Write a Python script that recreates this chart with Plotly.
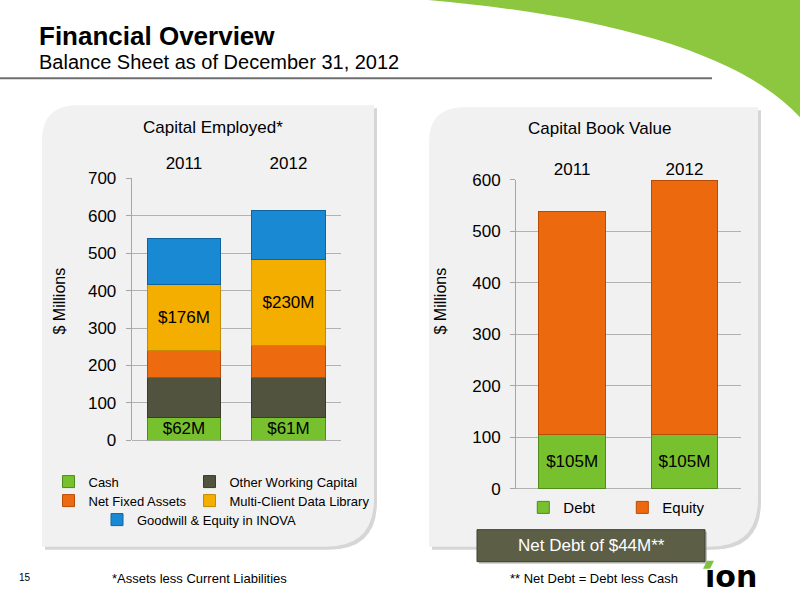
import plotly.graph_objects as go

# ==========================================
# DATOS ($ millones)
# ==========================================
years = ["2011", "2012"]

# Capital Employed (apilado de abajo hacia arriba)
cash = [62, 61]
other_wc = [107, 108]
net_fixed = [70, 85]
mc_library = [176, 230]
goodwill = [125, 130]

# Capital Book Value
debt = [105, 105]
equity = [433, 494]

W, H = 800, 600
# zona vertical que ocupa el "paper" en la captura
TOP, PH = 9.7, 580.6


def X(px):
    return px / W


def Y(py):
    return 1 - (py - TOP) / PH


def pt(x, y):
    return f"{X(x):.5f},{Y(y):.5f}"


def panel_path(x0, y0, x1, y1, r1, r2):
    # rectangulo con esquinas redondeadas en diagonal
    return (f"M {pt(x0, y0 + r1)} Q {pt(x0, y0)} {pt(x0 + r1, y0)} "
            f"L {pt(x1, y0)} L {pt(x1, y1 - r2)} Q {pt(x1, y1)} {pt(x1 - r2, y1)} "
            f"L {pt(x0, y1)} Z")


def money(vals):
    return [f"${v:.0f}M" for v in vals]


FONT = "Liberation Sans, Arial, sans-serif"
lbl_font = dict(size=17, color="black", family=FONT)

fig = go.Figure()

# ==========================================
# CAPITAL EMPLOYED
# ==========================================
fig.add_trace(go.Bar(x=years, y=cash, name="Cash", marker=dict(color="#78c12e", line=dict(color="#4f8a1a", width=1)),
                     text=money(cash), textposition="inside", insidetextanchor="middle", constraintext="none",
                     textfont=lbl_font, width=0.7, legend="legend", xaxis="x", yaxis="y"))
fig.add_trace(go.Bar(x=years, y=other_wc, name="Other Working Capital",
                     marker=dict(color="#52533f", line=dict(color="#3a3b2c", width=1)),
                     width=0.7, legend="legend2", xaxis="x", yaxis="y"))
fig.add_trace(go.Bar(x=years, y=net_fixed, name="Net Fixed Assets",
                     marker=dict(color="#ee6a0e", line=dict(color="#b84c06", width=1)),
                     width=0.7, legend="legend3", xaxis="x", yaxis="y"))
fig.add_trace(go.Bar(x=years, y=mc_library, name="Multi-Client Data Library",
                     marker=dict(color="#f4ae00", line=dict(color="#c48a00", width=1)),
                     text=money(mc_library), textposition="inside", insidetextanchor="middle", constraintext="none",
                     textfont=lbl_font, width=0.7, legend="legend4", xaxis="x", yaxis="y"))
fig.add_trace(go.Bar(x=years, y=goodwill, name="Goodwill & Equity in INOVA",
                     marker=dict(color="#1a89d4", line=dict(color="#0f64a0", width=1)),
                     width=0.7, legend="legend5", xaxis="x", yaxis="y"))

# ==========================================
# CAPITAL BOOK VALUE
# ==========================================
fig.add_trace(go.Bar(x=years, y=debt, name="Debt", marker=dict(color="#78c12e", line=dict(color="#4f8a1a", width=1)),
                     text=money(debt), textposition="inside", insidetextanchor="middle", constraintext="none",
                     textfont=lbl_font, width=0.594, legend="legend6", xaxis="x2", yaxis="y2"))
fig.add_trace(go.Bar(x=years, y=equity, name="Equity", marker=dict(color="#ec6a0d", line=dict(color="#b84c06", width=1)),
                     width=0.594, legend="legend7", xaxis="x2", yaxis="y2"))

# ==========================================
# EJES
# ==========================================
grid = "#b2b2b2"
eje_y = dict(
    showgrid=True, gridcolor=grid, gridwidth=1,
    zeroline=True, zerolinecolor=grid, zerolinewidth=1,
    showline=True, linecolor="#a6a6a6", linewidth=1,
    ticks="outside", ticklen=5, tickcolor="#a6a6a6",
    tickfont=dict(size=17, color="black"), dtick=100, ticklabelstandoff=6,
)
eje_x = dict(type="category", side="top", showline=False, showgrid=False, ticks="",
             tickfont=dict(size=17, color="black"))

fig.update_layout(
    xaxis=dict(domain=[X(131.7), X(340.7)], anchor="y", ticklabelstandoff=5, **eje_x),
    yaxis=dict(domain=[Y(440.7), Y(178.9)], anchor="x", range=[0, 700], **eje_y),
    xaxis2=dict(domain=[X(516), X(740.6)], anchor="y2", ticklabelstandoff=0, **eje_x),
    yaxis2=dict(domain=[Y(489.3), Y(180.3)], anchor="x2", range=[0, 600], **eje_y),
)

# ==========================================
# LEYENDAS (una por entrada para colocarlas como en la diapositiva)
# ==========================================
ley = dict(orientation="h", bgcolor="rgba(0,0,0,0)", xanchor="left", yanchor="middle",
           font=dict(size=13, color="black"))
ley_r = {**ley, "font": dict(size=15, color="black")}
fig.update_layout(
    showlegend=True,
    legend=dict(x=X(48.5), y=Y(482), **ley),
    legend2=dict(x=X(189.5), y=Y(482), **ley),
    legend3=dict(x=X(48.5), y=Y(501), **ley),
    legend4=dict(x=X(189.5), y=Y(501), **ley),
    legend5=dict(x=X(97), y=Y(520), **ley),
    legend6=dict(x=X(523.3), y=Y(508), **ley_r),
    legend7=dict(x=X(622.3), y=Y(508), **ley_r),
)

# ==========================================
# FONDO DE LA DIAPOSITIVA
# ==========================================
shapes = [
    # franja verde
    dict(type="path", path=f"M {pt(420, 0)} C {pt(600, 15)} {pt(740, 52)} {pt(800, 118)} L {pt(800, 0)} Z",
         fillcolor="#8dc63f", line=dict(width=0), layer="below"),
    # linea bajo el titulo
    dict(type="line", x0=0, x1=X(712), y0=Y(79), y1=Y(79), line=dict(color="#6f6f6f", width=2), layer="below"),
    # sombras de los paneles
    dict(type="path", path=panel_path(45, 109, 377, 550, 35, 48), fillcolor="#c4c4c4",
         line=dict(width=0), layer="below", opacity=0.7),
    dict(type="path", path=panel_path(432, 111, 761, 550, 35, 48), fillcolor="#c4c4c4",
         line=dict(width=0), layer="below", opacity=0.7),
    # paneles
    dict(type="path", path=panel_path(42, 106, 374, 547, 35, 48), fillcolor="#f1f1f1",
         line=dict(width=0), layer="below"),
    dict(type="path", path=panel_path(429, 108, 758, 547, 35, 48), fillcolor="#f1f1f1",
         line=dict(width=0), layer="below"),
    # caja de deuda neta
    dict(type="rect", x0=X(479), x1=X(707), y0=Y(564), y1=Y(532), fillcolor="#9a9a9a",
         line=dict(width=0), layer="above", opacity=0.6),
    dict(type="rect", x0=X(477), x1=X(705), y0=Y(562), y1=Y(530), fillcolor="#5c5e46",
         line=dict(color="#3f402f", width=1), layer="above"),
    # marca verde del logo
    dict(type="path", path=f"M {pt(703, 569)} L {pt(707, 561)} L {pt(714, 561)} L {pt(710, 569)} Z",
         fillcolor="#7dc242", line=dict(width=0), layer="above"),
]
for s in shapes:
    s.update(xref="paper", yref="paper")

ann = [
    dict(text="<b>Financial Overview</b>", x=X(37), y=Y(37), xanchor="left", yanchor="middle",
         font=dict(size=26, color="black")),
    dict(text="Balance Sheet as of December 31, 2012", x=X(37), y=Y(63), xanchor="left", yanchor="middle",
         font=dict(size=20, color="black")),
    dict(text="Capital Employed*", x=X(213), y=Y(128), xanchor="center", yanchor="middle",
         font=dict(size=17, color="black")),
    dict(text="Capital Book Value", x=X(599), y=Y(129), xanchor="center", yanchor="middle",
         font=dict(size=17, color="black")),
    dict(text="$ Millions", x=X(60), y=Y(302), xanchor="center", yanchor="middle", textangle=-90,
         font=dict(size=16, color="black")),
    dict(text="$ Millions", x=X(441), y=Y(302), xanchor="center", yanchor="middle", textangle=-90,
         font=dict(size=16, color="black")),
    dict(text="Net Debt of $44M**", x=X(591), y=Y(546), xanchor="center", yanchor="middle",
         font=dict(size=17, color="white")),
    dict(text="** Net Debt = Debt less Cash", x=X(594), y=Y(579), xanchor="center", yanchor="middle",
         font=dict(size=13, color="black")),
    dict(text="*Assets less Current Liabilities", x=X(199), y=Y(579), xanchor="center", yanchor="middle",
         font=dict(size=13, color="black")),
    dict(text="15", x=X(25), y=Y(578), xanchor="center", yanchor="middle",
         font=dict(size=10, color="black")),
    dict(text="<b>\u0131on</b>", x=X(731), y=Y(577), xanchor="center", yanchor="middle",
         font=dict(size=30, color="black", family="DejaVu Sans")),
]
for a in ann:
    a.update(xref="paper", yref="paper", showarrow=False)

fig.update_layout(
    barmode="stack",
    width=W, height=H, autosize=False,
    margin=dict(l=0, r=0, t=0, b=0),
    paper_bgcolor="white", plot_bgcolor="rgba(0,0,0,0)",
    font=dict(family=FONT, color="black"),
    shapes=shapes, annotations=ann,
)

fig.write_html("out.html", config={"displayModeBar": False},
               post_script="document.body.style.margin='0';document.body.style.overflow='hidden';")
